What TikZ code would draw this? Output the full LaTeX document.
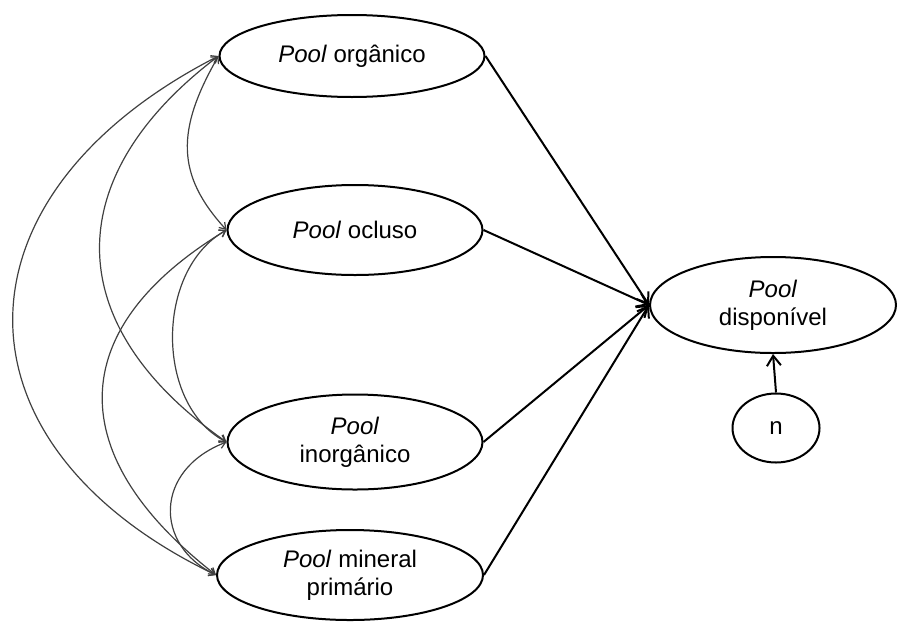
\documentclass[tikz,border=0pt]{standalone}
\usepackage{fontspec}
\setmainfont{Liberation Sans}
\usetikzlibrary{shapes.geometric,arrows.meta}

\begin{document}
\begin{tikzpicture}[x=0.5pt,y=-0.5pt,
    pool/.style={ellipse, draw, line width=1pt, inner sep=0pt, align=center,
        font=\fontsize{12}{14}\selectfont},
    flow/.style={line width=1pt, -{Straight Barb[length=5pt,width=7pt]}},
    swap/.style={line width=0.6pt, draw=black!75, {Straight Barb[length=3pt,width=4pt]}-{Straight Barb[length=3pt,width=4pt]}}]
    \useasboundingbox (0,0) rectangle (897,621);

    % Draw pools
    \node[pool, minimum width=132.5pt, minimum height=41pt] (org) at (352,56) {\textit{Pool} orgânico};
    \node[pool, minimum width=127.5pt, minimum height=45pt] (ocl) at (355,230) {\textit{Pool} ocluso};
    \node[pool, minimum width=127.5pt, minimum height=47.5pt] (inorg) at (355,442) {\textit{Pool}\\inorgânico};
    \node[pool, minimum width=133pt, minimum height=45pt] (mineral) at (350,575) {\textit{Pool} mineral\\primário};
    \node[pool, minimum width=123pt, minimum height=48pt] (disp) at (773,305) {\textit{Pool}\\disponível};
    \node[pool, minimum width=43.5pt, minimum height=34.5pt] (n) at (776,428) {n};

    % Draw flows to the available pool
    \draw[flow] (org.east) -- (disp.west);
    \draw[flow] (ocl.east) -- (disp.west);
    \draw[flow] (inorg.east) -- (disp.west);
    \draw[flow] (mineral.east) -- (disp.west);
    \draw[flow] (n.north) -- (disp.south);

    % Exchanges between pools
    \draw[swap] (org.west) .. controls (-55,196) and (-55,445) .. (mineral.west);
    \draw[swap] (org.west) .. controls (59,177) and (59,325) .. (inorg.west);
    \draw[swap] (org.west) .. controls (176,130) and (176,175) .. (ocl.west);
    \draw[swap] (ocl.west) .. controls (63,329) and (63,456) .. (mineral.west);
    \draw[swap] (ocl.west) .. controls (155,270) and (155,405) .. (inorg.west);
    \draw[swap] (inorg.west) .. controls (154,470) and (154,545) .. (mineral.west);
\end{tikzpicture}
\end{document}
